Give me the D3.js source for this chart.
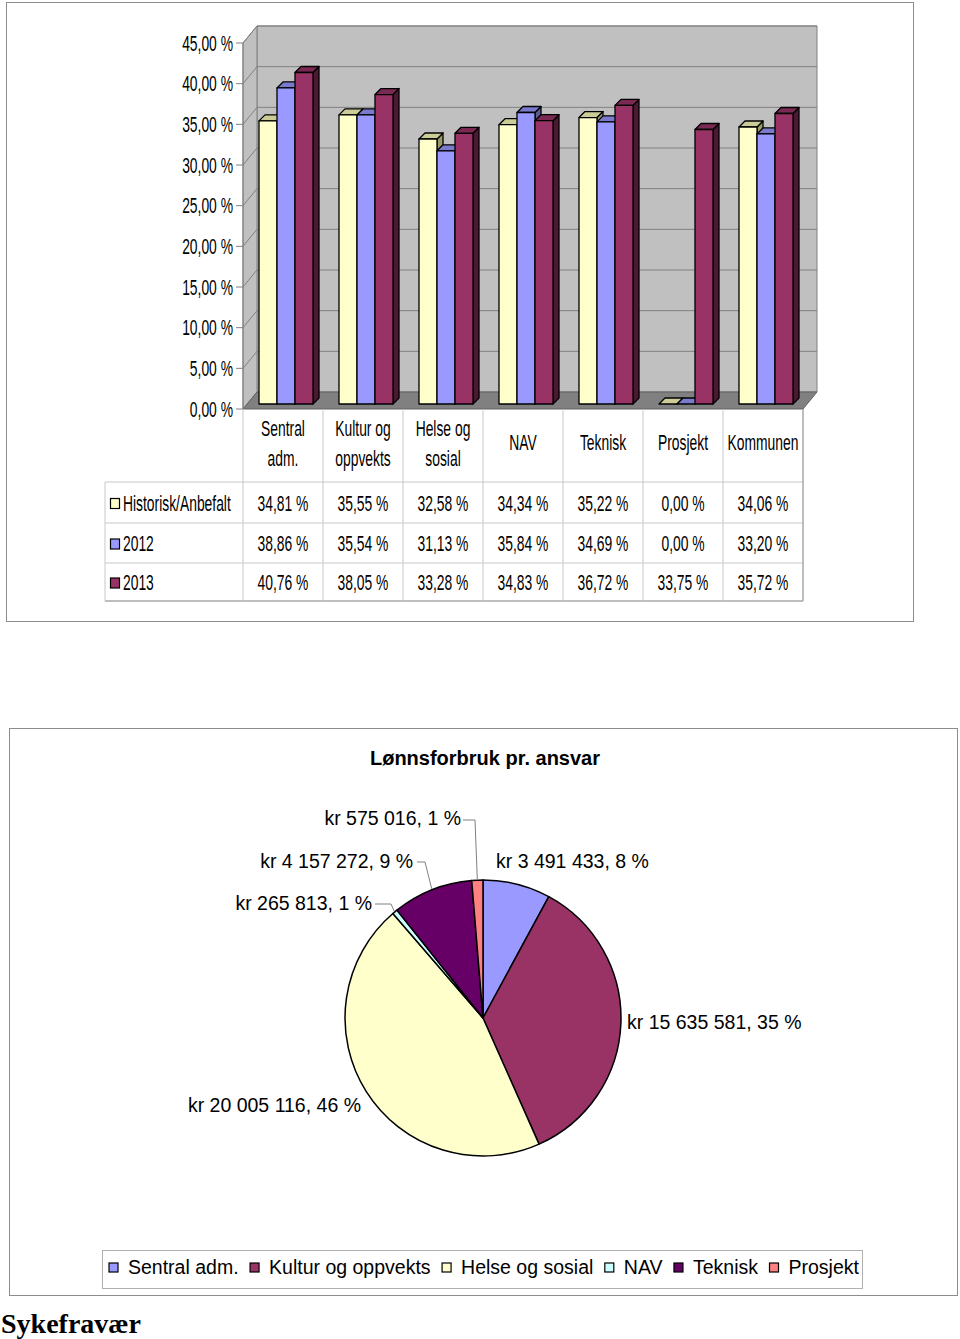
<!DOCTYPE html>
<html><head><meta charset="utf-8">
<script src="https://cdn.jsdelivr.net/npm/d3@7"></script>
<style>body{margin:0;background:#fff} svg{display:block}</style>
</head><body><svg id="c" width="960" height="1339"></svg>
<script>
// ---------- DATA ----------
const categories = ["Sentral adm.","Kultur og oppvekts","Helse og sosial","NAV","Teknisk","Prosjekt","Kommunen"];
const categoryLines = [["Sentral","adm."],["Kultur og","oppvekts"],["Helse og","sosial"],["NAV"],["Teknisk"],["Prosjekt"],["Kommunen"]];
const seriesNames = ["Historisk/Anbefalt","2012","2013"];
const historisk = [34.81,35.55,32.58,34.34,35.22,0.00,34.06];
const year2012 = [38.86,35.54,31.13,35.84,34.69,0.00,33.20];
const year2013 = [40.76,38.05,33.28,34.83,36.72,33.75,35.72];
const yTicks = [0,5,10,15,20,25,30,35,40,45];

const pieTitle = "Lønnsforbruk pr. ansvar";
const pieCategories = ["Sentral adm.","Kultur og oppvekts","Helse og sosial","NAV","Teknisk","Prosjekt"];
const pieValues = [3491433,15635581,20005116,265813,4157272,575016];
const piePctLabels = [8,35,46,1,9,1];
const pageHeading = "Sykefravær";

// ---------- STYLE / LAYOUT ----------
const seriesColors = [
  {front:"#FFFFCC", top:"#CCCC99", side:"#999966"},
  {front:"#9999FF", top:"#7A7ACC", side:"#5C5C99"},
  {front:"#993366", top:"#7A2952", side:"#4C1933"}
];
const pieColors = ["#9999FF","#993366","#FFFFCC","#CCFFFF","#660066","#FF8080"];

const svg = d3.select("#c");
const SX = 0.63;
const narrowFont = "'Liberation Sans', Arial, sans-serif";
function ctext(g, x, y, str, anchor, size) {
  return g.append("text")
    .attr("transform", `translate(${x},${y}) scale(${SX},1)`)
    .attr("text-anchor", anchor || "middle")
    .attr("font-family", narrowFont)
    .attr("font-size", size || 22)
    .attr("fill", "#000")
    .text(str);
}
const fmtPct = v => d3.format(".2f")(v).replace(".", ",") + " %";
const nok = d3.formatLocale({decimal: ",", thousands: " ", grouping: [3], currency: ["kr ", ""]});
const fmtKr = nok.format("$,.0f");

// ---------- TOP CHART ----------
svg.append("rect").attr("x",6.5).attr("y",2.5).attr("width",907).attr("height",619)
  .attr("fill","#fff").attr("stroke","#8c8c8c");

const g1 = svg.append("g");
const X0 = 243, X1 = 803;
const WDX = 14, WDY = -17;       // wall depth
const y = d3.scaleLinear().domain([0,45]).range([409,43]);
const x = d3.scaleBand().domain(categories).range([X0, X1]);
const xs = d3.scaleBand().domain(seriesNames).range([0, 54]);
const ptsStr = p => p.map(d => d.join(",")).join(" ");

// back wall
g1.append("polygon").attr("points", ptsStr([[X0+WDX,y(45)+WDY],[X1+WDX,y(45)+WDY],[X1+WDX,y(0)+WDY],[X0+WDX,y(0)+WDY]]))
  .attr("fill","#C0C0C0").attr("stroke","#808080").attr("stroke-width",1);
// side wall
g1.append("polygon").attr("points", ptsStr([[X0,y(45)],[X0+WDX,y(45)+WDY],[X0+WDX,y(0)+WDY],[X0,y(0)]]))
  .attr("fill","#C0C0C0").attr("stroke","#808080").attr("stroke-width",1);
// floor
g1.append("polygon").attr("points", ptsStr([[X0,y(0)],[X1,y(0)],[X1+WDX,y(0)+WDY],[X0+WDX,y(0)+WDY]]))
  .attr("fill","#808080").attr("stroke","#606060").attr("stroke-width",1);
// gridlines
yTicks.filter(v => v > 0).forEach(v => {
  g1.append("line").attr("x1",X0+WDX).attr("x2",X1+WDX).attr("y1",y(v)+WDY).attr("y2",y(v)+WDY)
    .attr("stroke","#808080").attr("stroke-width",1);
  g1.append("line").attr("x1",X0).attr("x2",X0+WDX).attr("y1",y(v)).attr("y2",y(v)+WDY)
    .attr("stroke","#808080").attr("stroke-width",1);
});
// axis
g1.append("line").attr("x1",X0).attr("x2",X0).attr("y1",y(45)).attr("y2",y(0)).attr("stroke","#808080");
yTicks.forEach(v => {
  g1.append("line").attr("x1",X0-7).attr("x2",X0).attr("y1",y(v)).attr("y2",y(v)).attr("stroke","#808080");
  ctext(g1, 233, y(v)+7.5, fmtPct(v), "end");
});

// bars
const seriesVals = [historisk, year2012, year2013];
const BDY = -5, BDX = 16, DD = 6;
categories.forEach((c, ci) => {
  seriesNames.forEach((s, si) => {
    const v = seriesVals[si][ci];
    const bx = x(c) + BDX + xs(s), bw = xs.bandwidth();
    const yt = y(v) + BDY, yb = y(0) + BDY;
    const col = seriesColors[si];
    const gb = g1.append("g").attr("stroke","#000").attr("stroke-width",1.3).attr("stroke-linejoin","round");
    gb.append("polygon").attr("points", ptsStr([[bx+bw,yt],[bx+bw+DD,yt-DD],[bx+bw+DD,yb-DD],[bx+bw,yb]])).attr("fill",col.side);
    gb.append("polygon").attr("points", ptsStr([[bx,yt],[bx+bw,yt],[bx+bw+DD,yt-DD],[bx+DD,yt-DD]])).attr("fill",col.top);
    gb.append("rect").attr("x",bx).attr("y",yt).attr("width",bw).attr("height",yb-yt).attr("fill",col.front);
  });
});

// data table
const rowY = [482, 523, 563, 601];
const gridC = "#C8C8C8";
rowY.forEach((ry, i) => {
  g1.append("line").attr("x1",105).attr("x2",X1).attr("y1",ry).attr("y2",ry)
    .attr("stroke", i === rowY.length-1 ? "#A8A8A8" : gridC).attr("stroke-width", i === rowY.length-1 ? 1.5 : 1);
});
g1.append("line").attr("x1",105).attr("x2",105).attr("y1",rowY[0]).attr("y2",601).attr("stroke",gridC);
categories.forEach((c, ci) => {
  g1.append("line").attr("x1",x(c)).attr("x2",x(c)).attr("y1",y(0)).attr("y2",601).attr("stroke",gridC);
});
g1.append("line").attr("x1",X1).attr("x2",X1).attr("y1",y(0)).attr("y2",601).attr("stroke","#A8A8A8").attr("stroke-width",1.5);

categories.forEach((c, ci) => {
  const cx = x(c) + x.bandwidth()/2;
  const lines = categoryLines[ci];
  if (lines.length === 2) {
    ctext(g1, cx, 436, lines[0]);
    ctext(g1, cx, 466, lines[1]);
  } else {
    ctext(g1, cx, 450, lines[0]);
  }
  seriesNames.forEach((s, si) => {
    const rc = (rowY[si] + rowY[si+1]) / 2;
    ctext(g1, cx, rc + 8, fmtPct(seriesVals[si][ci]));
  });
});
seriesNames.forEach((s, si) => {
  const rc = (rowY[si] + rowY[si+1]) / 2;
  g1.append("rect").attr("x",110.5).attr("y",rc-4).attr("width",9).attr("height",10)
    .attr("fill",seriesColors[si].front).attr("stroke","#000").attr("stroke-width",1.2);
  ctext(g1, 123, rc + 8, s, "start");
});

// ---------- PIE CHART ----------
svg.append("rect").attr("x",9.5).attr("y",728.5).attr("width",948).attr("height",567)
  .attr("fill","#fff").attr("stroke","#8c8c8c");
const g2 = svg.append("g");
g2.append("text").attr("x",485).attr("y",765).attr("text-anchor","middle")
  .attr("font-family","'Liberation Sans', Arial, sans-serif").attr("font-weight","bold").attr("font-size",20)
  .text(pieTitle);

const PC = [483, 1018], R = 138;
const pie = d3.pie().sort(null).value(d => d);
const arcs = pie(pieValues);
const arc = d3.arc().innerRadius(0).outerRadius(R);
const gp = g2.append("g").attr("transform",`translate(${PC[0]},${PC[1]})`);
gp.selectAll("path").data(arcs).join("path")
  .attr("d", arc).attr("fill",(d,i) => pieColors[i])
  .attr("stroke","#000").attr("stroke-width",1.5).attr("stroke-linejoin","round");

const labelLayout = [
  {x:496, y:868, anchor:"start"},
  {x:627, y:1029, anchor:"start"},
  {x:361, y:1112, anchor:"end"},
  {x:372, y:910, anchor:"end", lead:[[375,904],[391,904]]},
  {x:413, y:868, anchor:"end", lead:[[417,862],[425,862]]},
  {x:461, y:825, anchor:"end", lead:[[463,820],[475,820]]}
];
arcs.forEach((a, i) => {
  const L = labelLayout[i];
  g2.append("text").attr("x",L.x).attr("y",L.y).attr("text-anchor",L.anchor)
    .attr("font-family","'Liberation Sans', Arial, sans-serif").attr("font-size",19.5)
    .text(fmtKr(pieValues[i]) + ", " + piePctLabels[i] + " %");
  if (L.lead) {
    const mid = (a.startAngle + a.endAngle) / 2;
    const px = PC[0] + Math.sin(mid) * (R + 1), py = PC[1] - Math.cos(mid) * (R + 1);
    g2.append("polyline").attr("points", ptsStr([L.lead[0], L.lead[1], [px, py]]))
      .attr("fill","none").attr("stroke","#808080").attr("stroke-width",1);
  }
});

// legend
const gl = svg.append("g");
gl.append("rect").attr("x",102.5).attr("y",1250.5).attr("width",760).attr("height",38)
  .attr("fill","#fff").attr("stroke","#B0B0B0");
let lx = 109;
pieCategories.forEach((c, i) => {
  gl.append("rect").attr("x",lx).attr("y",1263).attr("width",9).attr("height",9)
    .attr("fill",pieColors[i]).attr("stroke","#000").attr("stroke-width",1.2);
  const t = gl.append("text").attr("x",lx+19).attr("y",1274)
    .attr("font-family","'Liberation Sans', Arial, sans-serif").attr("font-size",19.5).text(c);
  lx = lx + 19 + t.node().getComputedTextLength() + 11.5;
});

// heading below
svg.append("text").attr("x",1).attr("y",1333)
  .attr("font-family","'Liberation Serif', 'Times New Roman', serif").attr("font-weight","bold").attr("font-size",28)
  .text(pageHeading);
</script></body></html>
